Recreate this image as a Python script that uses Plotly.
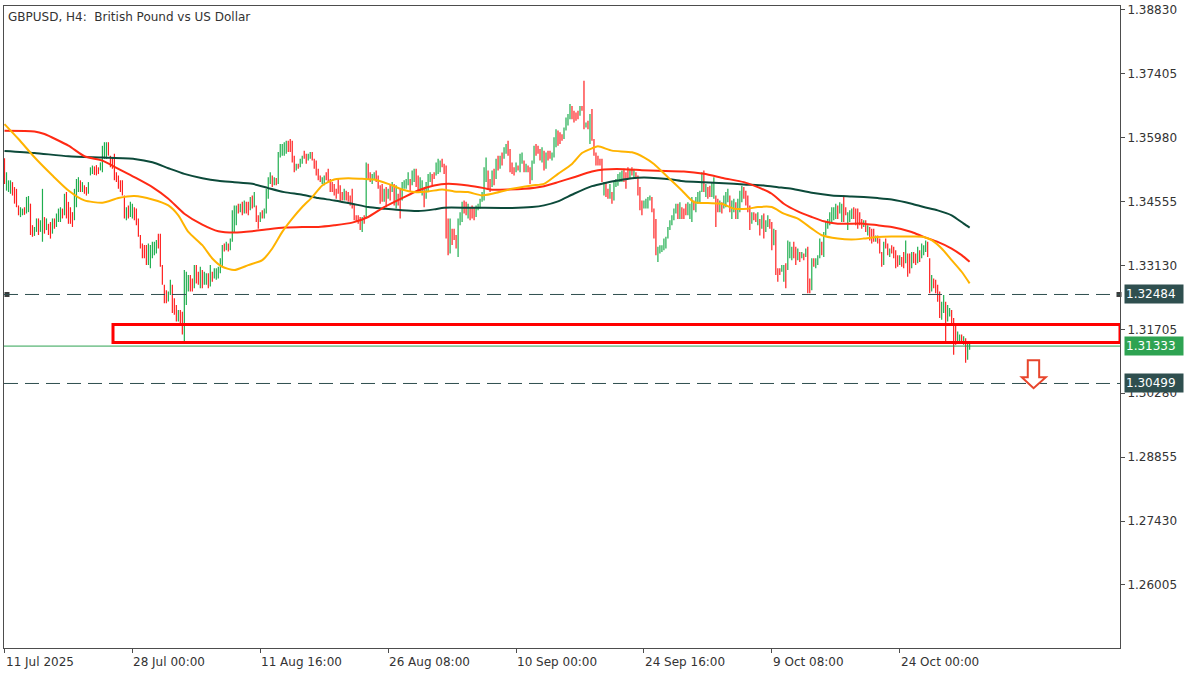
import plotly.graph_objects as go

# ---------------- data ----------------
# GBPUSD H4 bars, bar 0 = 11 Jul 2025 08:00.  u = bullish bar, d = bearish bar
bar_dir = (
    "duuudddduu" "duudduuduu" "dudduduuud" "udddduuudu" "dduuuddduu"
    "uudddddddd" "duduuddddd" "dduuuuuddd" "dduudddudd" "uuudduddud"
    "uududuuuuu" "duduuuudud" "uddududdud" "uuuududuuu" "uudddduduu"
    "dduudddddu" "uddddddddd" "uddddddddu" "dudduudddd" "ududududdu"
    "uuuduudduu" "duuudduuud" "ddduddduuu" "dduddduuuu" "uuddudud"
    "uduuddddud" "uududduudd" "dududduuud" "dduuuudddd" "uddududddd"
    "ddudduduuu" "uudddududd" "dduuuudddu" "uuuuuuuuud" "uddduuuduu"
    "uududduudd" "uduuuduudu" "uudddduddu" "duduuddudd" "duuduuuddu"
    "dududduduu" "uduuuuuuud" "uudduuuddd" "ddududddud" "dduddudddd"
    "uddudduddu" "duuudduddd" "duuduudddu" "ududuu"
)

bar_high = [
    1.3552, 1.3521, 1.3503, 1.3503, 1.3499, 1.3488, 1.3484, 1.3447, 1.3443, 1.3440,
    1.3443, 1.3466, 1.3468, 1.3451, 1.3403, 1.3399, 1.3418, 1.3418, 1.3414, 1.3484,
    1.3421, 1.3418, 1.3406, 1.3410, 1.3418, 1.3418, 1.3429, 1.3440, 1.3443, 1.3440,
    1.3473, 1.3477, 1.3455, 1.3443, 1.3432, 1.3484, 1.3506, 1.3510, 1.3503, 1.3499,
    1.3492, 1.3488, 1.3499, 1.3532, 1.3536, 1.3534, 1.3537, 1.3532, 1.3543, 1.3580,
    1.3588, 1.3588, 1.3588, 1.3558, 1.3554, 1.3562, 1.3521, 1.3514, 1.3503, 1.3503,
    1.3469, 1.3443, 1.3447, 1.3455, 1.3451, 1.3443, 1.3440, 1.3418, 1.3381, 1.3362,
    1.3359, 1.3359, 1.3362, 1.3359, 1.3366, 1.3366, 1.3370, 1.3384, 1.3384, 1.3314,
    1.3270, 1.3258, 1.3255, 1.3281, 1.3270, 1.3240, 1.3225, 1.3214, 1.3214, 1.3210,
    1.3303, 1.3299, 1.3292, 1.3292, 1.3284, 1.3314, 1.3314, 1.3299, 1.3310, 1.3303,
    1.3299, 1.3296, 1.3296, 1.3314, 1.3299, 1.3307, 1.3307, 1.3310, 1.3329, 1.3359,
    1.3362, 1.3366, 1.3362, 1.3373, 1.3436, 1.3447, 1.3447, 1.3451, 1.3451, 1.3455,
    1.3458, 1.3455, 1.3455, 1.3466, 1.3469, 1.3477, 1.3447, 1.3425, 1.3432, 1.3436,
    1.3440, 1.3484, 1.3510, 1.3521, 1.3514, 1.3510, 1.3508, 1.3566, 1.3584, 1.3584,
    1.3588, 1.3591, 1.3591, 1.3595, 1.3591, 1.3558, 1.3540, 1.3540, 1.3551, 1.3558,
    1.3569, 1.3562, 1.3562, 1.3566, 1.3566, 1.3551, 1.3547, 1.3529, 1.3514, 1.3510,
    1.3514, 1.3521, 1.3529, 1.3506, 1.3499, 1.3495, 1.3484, 1.3506, 1.3492, 1.3477,
    1.3484, 1.3480, 1.3477, 1.3469, 1.3484, 1.3451, 1.3425, 1.3425, 1.3421, 1.3421,
    1.3425, 1.3543, 1.3540, 1.3521, 1.3517, 1.3521, 1.3525, 1.3514, 1.3492, 1.3495,
    1.3484, 1.3488, 1.3484, 1.3495, 1.3499, 1.3495, 1.3492, 1.3473, 1.3484, 1.3499,
    1.3503, 1.3506, 1.3521, 1.3506, 1.3525, 1.3529, 1.3529, 1.3514, 1.3510, 1.3503,
    1.3484, 1.3499, 1.3517, 1.3521, 1.3517, 1.3521, 1.3543, 1.3551, 1.3547, 1.3551,
    1.3540, 1.3536, 1.3418, 1.3418, 1.3395, 1.3395, 1.3381, 1.3418, 1.3432, 1.3455,
    1.3458, 1.3455, 1.3451, 1.3443, 1.3447, 1.3443, 1.3447, 1.3451, 1.3462, 1.3477,
    1.3532, 1.3554, 1.3525, 1.3506, 1.3525, 1.3529, 1.3551, 1.3558, 1.3558, 1.3565,
    1.3577, 1.3584, 1.3591, 1.3573, 1.3543, 1.3532, 1.3543, 1.3536, 1.3562, 1.3565,
    1.3547, 1.3540, 1.3536, 1.3532, 1.3547, 1.3580, 1.3584, 1.3580, 1.3573, 1.3577,
    1.3569, 1.3565, 1.3569, 1.3569, 1.3565, 1.3599, 1.3617, 1.3614, 1.3610, 1.3606,
    1.3621, 1.3643, 1.3651, 1.3673, 1.3669, 1.3658, 1.3654, 1.3658, 1.3669, 1.3669,
    1.3725, 1.3632, 1.3636, 1.3651, 1.3662, 1.3595, 1.3565, 1.3558, 1.3551, 1.3551,
    1.3499, 1.3499, 1.3484, 1.3495, 1.3477, 1.3499, 1.3506, 1.3517, 1.3521, 1.3525,
    1.3529, 1.3521, 1.3532, 1.3529, 1.3532, 1.3529, 1.3521, 1.3514, 1.3488, 1.3458,
    1.3458, 1.3462, 1.3466, 1.3469, 1.3466, 1.3440, 1.3417, 1.3355, 1.3358, 1.3358,
    1.3373, 1.3377, 1.3399, 1.3414, 1.3425, 1.3440, 1.3451, 1.3451, 1.3454, 1.3443,
    1.3440, 1.3451, 1.3454, 1.3451, 1.3466, 1.3458, 1.3466, 1.3477, 1.3480, 1.3521,
    1.3525, 1.3495, 1.3488, 1.3491, 1.3499, 1.3510, 1.3469, 1.3462, 1.3458, 1.3454,
    1.3469, 1.3477, 1.3484, 1.3469, 1.3458, 1.3462, 1.3454, 1.3462, 1.3480, 1.3491,
    1.3488, 1.3480, 1.3469, 1.3447, 1.3432, 1.3432, 1.3429, 1.3432, 1.3417, 1.3425,
    1.3429, 1.3414, 1.3425, 1.3417, 1.3410, 1.3395, 1.3392, 1.3307, 1.3307, 1.3314,
    1.3314, 1.3318, 1.3369, 1.3366, 1.3355, 1.3366, 1.3355, 1.3351, 1.3343, 1.3343,
    1.3340, 1.3351, 1.3355, 1.3284, 1.3329, 1.3329, 1.3329, 1.3336, 1.3373, 1.3366,
    1.3388, 1.3410, 1.3417, 1.3432, 1.3443, 1.3443, 1.3451, 1.3447, 1.3454, 1.3451,
    1.3469, 1.3443, 1.3432, 1.3436, 1.3440, 1.3443, 1.3440, 1.3440, 1.3432, 1.3417,
    1.3414, 1.3414, 1.3403, 1.3399, 1.3395, 1.3395, 1.3380, 1.3380, 1.3373, 1.3343,
    1.3366, 1.3373, 1.3362, 1.3351, 1.3358, 1.3355, 1.3347, 1.3336, 1.3336, 1.3332,
    1.3343, 1.3369, 1.3340, 1.3340, 1.3343, 1.3343, 1.3340, 1.3355, 1.3347, 1.3362,
    1.3358, 1.3369, 1.3366, 1.3329, 1.3292, 1.3284, 1.3281, 1.3270, 1.3255, 1.3232,
    1.3247, 1.3232, 1.3225, 1.3218, 1.3214, 1.3196, 1.3181, 1.3166, 1.3159, 1.3159,
    1.3155, 1.3151, 1.3144, 1.3140,
]

bar_low = [
    1.3495, 1.3480, 1.3477, 1.3473, 1.3469, 1.3451, 1.3443, 1.3425, 1.3421, 1.3425,
    1.3426, 1.3429, 1.3432, 1.3381, 1.3377, 1.3379, 1.3388, 1.3381, 1.3388, 1.3366,
    1.3384, 1.3392, 1.3381, 1.3373, 1.3384, 1.3395, 1.3399, 1.3410, 1.3410, 1.3418,
    1.3425, 1.3418, 1.3406, 1.3406, 1.3399, 1.3414, 1.3443, 1.3477, 1.3477, 1.3477,
    1.3473, 1.3469, 1.3473, 1.3514, 1.3517, 1.3515, 1.3514, 1.3517, 1.3525, 1.3521,
    1.3551, 1.3551, 1.3558, 1.3532, 1.3529, 1.3503, 1.3499, 1.3484, 1.3477, 1.3469,
    1.3418, 1.3414, 1.3418, 1.3421, 1.3418, 1.3414, 1.3403, 1.3377, 1.3351, 1.3329,
    1.3329, 1.3314, 1.3314, 1.3307, 1.3329, 1.3336, 1.3340, 1.3351, 1.3310, 1.3270,
    1.3229, 1.3229, 1.3233, 1.3247, 1.3207, 1.3203, 1.3188, 1.3188, 1.3181, 1.3159,
    1.3144, 1.3225, 1.3255, 1.3255, 1.3255, 1.3262, 1.3273, 1.3270, 1.3262, 1.3262,
    1.3270, 1.3270, 1.3262, 1.3266, 1.3277, 1.3284, 1.3281, 1.3284, 1.3296, 1.3310,
    1.3344, 1.3347, 1.3344, 1.3347, 1.3366, 1.3388, 1.3403, 1.3429, 1.3432, 1.3425,
    1.3429, 1.3429, 1.3425, 1.3436, 1.3440, 1.3443, 1.3410, 1.3395, 1.3410, 1.3418,
    1.3418, 1.3429, 1.3462, 1.3495, 1.3488, 1.3492, 1.3492, 1.3495, 1.3554, 1.3558,
    1.3558, 1.3562, 1.3566, 1.3566, 1.3543, 1.3521, 1.3525, 1.3529, 1.3532, 1.3540,
    1.3551, 1.3540, 1.3547, 1.3551, 1.3547, 1.3529, 1.3514, 1.3503, 1.3499, 1.3495,
    1.3492, 1.3503, 1.3499, 1.3477, 1.3477, 1.3469, 1.3462, 1.3473, 1.3455, 1.3458,
    1.3458, 1.3458, 1.3455, 1.3447, 1.3440, 1.3414, 1.3410, 1.3406, 1.3392, 1.3388,
    1.3406, 1.3418, 1.3506, 1.3499, 1.3495, 1.3503, 1.3499, 1.3484, 1.3451, 1.3455,
    1.3455, 1.3443, 1.3462, 1.3458, 1.3477, 1.3447, 1.3440, 1.3447, 1.3418, 1.3458,
    1.3484, 1.3484, 1.3492, 1.3477, 1.3492, 1.3499, 1.3488, 1.3477, 1.3477, 1.3469,
    1.3443, 1.3462, 1.3477, 1.3499, 1.3492, 1.3506, 1.3514, 1.3517, 1.3521, 1.3532,
    1.3517, 1.3373, 1.3336, 1.3340, 1.3359, 1.3370, 1.3351, 1.3332, 1.3403, 1.3410,
    1.3429, 1.3425, 1.3418, 1.3414, 1.3418, 1.3414, 1.3421, 1.3436, 1.3440, 1.3455,
    1.3458, 1.3499, 1.3484, 1.3477, 1.3488, 1.3492, 1.3506, 1.3525, 1.3529, 1.3536,
    1.3551, 1.3562, 1.3558, 1.3521, 1.3517, 1.3514, 1.3521, 1.3525, 1.3521, 1.3540,
    1.3521, 1.3521, 1.3521, 1.3495, 1.3503, 1.3540, 1.3558, 1.3562, 1.3547, 1.3543,
    1.3525, 1.3529, 1.3547, 1.3551, 1.3547, 1.3554, 1.3577, 1.3580, 1.3584, 1.3591,
    1.3595, 1.3614, 1.3625, 1.3639, 1.3639, 1.3632, 1.3636, 1.3639, 1.3647, 1.3658,
    1.3617, 1.3621, 1.3617, 1.3584, 1.3591, 1.3558, 1.3536, 1.3536, 1.3536, 1.3499,
    1.3469, 1.3466, 1.3462, 1.3462, 1.3451, 1.3458, 1.3488, 1.3491, 1.3499, 1.3499,
    1.3499, 1.3484, 1.3506, 1.3506, 1.3514, 1.3506, 1.3506, 1.3469, 1.3436, 1.3425,
    1.3440, 1.3440, 1.3440, 1.3458, 1.3432, 1.3373, 1.3336, 1.3321, 1.3340, 1.3343,
    1.3347, 1.3351, 1.3373, 1.3392, 1.3403, 1.3414, 1.3429, 1.3417, 1.3417, 1.3417,
    1.3417, 1.3425, 1.3425, 1.3417, 1.3410, 1.3436, 1.3432, 1.3451, 1.3454, 1.3477,
    1.3477, 1.3466, 1.3462, 1.3466, 1.3466, 1.3462, 1.3399, 1.3432, 1.3432, 1.3429,
    1.3440, 1.3443, 1.3454, 1.3432, 1.3417, 1.3432, 1.3417, 1.3417, 1.3432, 1.3454,
    1.3462, 1.3447, 1.3432, 1.3392, 1.3406, 1.3414, 1.3410, 1.3403, 1.3380, 1.3395,
    1.3373, 1.3388, 1.3399, 1.3395, 1.3347, 1.3358, 1.3292, 1.3277, 1.3292, 1.3299,
    1.3277, 1.3262, 1.3303, 1.3329, 1.3325, 1.3329, 1.3314, 1.3325, 1.3321, 1.3329,
    1.3325, 1.3332, 1.3251, 1.3251, 1.3258, 1.3310, 1.3307, 1.3314, 1.3329, 1.3336,
    1.3332, 1.3380, 1.3395, 1.3403, 1.3410, 1.3414, 1.3417, 1.3417, 1.3429, 1.3410,
    1.3410, 1.3425, 1.3392, 1.3410, 1.3417, 1.3417, 1.3403, 1.3395, 1.3403, 1.3395,
    1.3399, 1.3388, 1.3380, 1.3369, 1.3362, 1.3366, 1.3366, 1.3362, 1.3340, 1.3310,
    1.3314, 1.3351, 1.3336, 1.3332, 1.3340, 1.3329, 1.3307, 1.3310, 1.3314, 1.3310,
    1.3307, 1.3318, 1.3288, 1.3295, 1.3307, 1.3318, 1.3314, 1.3318, 1.3321, 1.3329,
    1.3336, 1.3343, 1.3332, 1.3251, 1.3255, 1.3262, 1.3251, 1.3232, 1.3196, 1.3192,
    1.3207, 1.3144, 1.3188, 1.3199, 1.3181, 1.3114, 1.3136, 1.3144, 1.3144, 1.3140,
    1.3136, 1.3096, 1.3103, 1.3125,
]

# moving averages (sampled along the lines): bar index and price
fast_ma_bar = [0, 7, 15, 24, 32, 40, 49, 57, 65, 74, 82, 87, 92, 99, 104, 109, 115, 122, 129, 134,
               139, 144, 149, 154, 159, 165, 172, 179, 185, 192, 199, 205, 212, 219, 225, 232, 239,
               244, 254, 264, 270, 277, 284, 289, 294, 297, 304, 314, 320, 325, 332, 339, 345, 352,
               359, 365, 372, 377, 384, 390, 397, 404, 409, 417, 424, 430, 437, 444, 454, 460, 464,
               469, 474, 479, 483]
fast_ma = [1.36284, 1.35951, 1.35544, 1.35137, 1.34804, 1.34582, 1.34530, 1.34634, 1.34678, 1.34604,
           1.34471, 1.34249, 1.33879, 1.33583, 1.33287, 1.33102, 1.33028, 1.33139, 1.33250, 1.33509,
           1.33879, 1.34175, 1.34434, 1.34656, 1.34915, 1.35048, 1.35078, 1.35063, 1.35048, 1.34952,
           1.34826, 1.34767, 1.34782, 1.34826, 1.34782, 1.34767, 1.34693,
           1.34730, 1.34841, 1.34915, 1.34952, 1.35174, 1.35396, 1.35640, 1.35744, 1.35788, 1.35692,
           1.35655, 1.35544, 1.35396, 1.35100, 1.34804, 1.34545, 1.34523, 1.34508, 1.34397, 1.34397,
           1.34434, 1.34434, 1.34286, 1.34175, 1.33953, 1.33805, 1.33731, 1.33709, 1.33731, 1.33768,
           1.33775, 1.33775, 1.33768, 1.33694, 1.33509, 1.33250, 1.32991, 1.32732]

mid_ma_bar = [0, 15, 20, 32, 40, 49, 57, 65, 74, 82, 90, 99, 107, 115, 124, 132, 140, 149, 157, 165,
              174, 182, 190, 199, 207, 215, 222, 232, 240,
              244, 260, 270, 277, 285, 294, 300, 310, 319, 327, 340, 350, 360, 370, 377, 384, 390,
              397, 404, 410, 417, 430, 437, 444, 454, 460, 467, 474, 479, 483]
mid_ma = [1.36136, 1.36121, 1.36062, 1.35803, 1.35566, 1.35470, 1.35285, 1.35100, 1.34878, 1.34619,
          1.34286, 1.34042, 1.33894, 1.33864, 1.33894, 1.33938, 1.33975, 1.33990, 1.33990, 1.34027,
          1.34086, 1.34212, 1.34434, 1.34634, 1.34804, 1.34915, 1.34952, 1.34915, 1.34856,
          1.34819, 1.34841, 1.34900, 1.34989, 1.35100, 1.35226, 1.35270, 1.35278, 1.35255, 1.35241,
          1.35226, 1.35174, 1.35078, 1.34989, 1.34878, 1.34730, 1.34508, 1.34338, 1.34212, 1.34116,
          1.34064, 1.34064, 1.34027, 1.33990, 1.33879, 1.33768, 1.33657, 1.33509, 1.33361, 1.33213]

slow_ma_bar = [0, 15, 32, 49, 65, 74, 82, 90, 99, 107, 115, 124, 132, 140, 149, 157, 165, 174, 182,
               190, 199, 207, 215, 220, 232, 249,
               254, 264, 270, 277, 285, 294, 300, 307, 314, 320, 327, 334, 340, 350, 360, 370, 380,
               387, 394, 404, 414, 424, 430, 437, 444, 454, 460, 467, 474, 480, 483]
slow_ma = [1.35685, 1.35640, 1.35566, 1.35537, 1.35507, 1.35433, 1.35300, 1.35174, 1.35078, 1.35019,
           1.34989, 1.34952, 1.34856, 1.34767, 1.34708, 1.34634, 1.34582, 1.34508, 1.34434, 1.34397,
           1.34360, 1.34345, 1.34382, 1.34419, 1.34419, 1.34412,
           1.34412, 1.34434, 1.34471, 1.34560, 1.34730, 1.34900, 1.34967, 1.35026, 1.35078, 1.35093,
           1.35078, 1.35048, 1.35011, 1.34989, 1.34967, 1.34937, 1.34915, 1.34878, 1.34841, 1.34752,
           1.34693, 1.34671, 1.34656, 1.34634, 1.34604, 1.34508, 1.34434, 1.34360, 1.34249, 1.34064,
           1.33975]

time_tick_bars = [0, 64, 128, 192, 256, 320, 384, 448]
time_tick_text = ["11 Jul 2025", "28 Jul 00:00", "11 Aug 16:00", "26 Aug 08:00",
                  "10 Sep 00:00", "24 Sep 16:00", "9 Oct 08:00", "24 Oct 00:00"]
price_ticks = [1.38830, 1.37405, 1.35980, 1.34555, 1.33130, 1.31705,
               1.30280, 1.28855, 1.27430, 1.26005]

level_upper = 1.32484
level_lower = 1.30499
last_price = 1.31333
zone_top = 1.31814
zone_bottom = 1.31415
zone_start_bar = 54.3

x_range = [-0.25, 558.25]
y_range = [1.24599, 1.38918]

# ---------------- colours / fonts ----------------
UP = "#1fae4f"
DOWN = "#ff2020"
FONT = "DejaVu Sans"
FS = 12
TXT = "#333333"
AXIS = "#4d4d4d"
DARK_BOX = "#2f4f4f"
GREEN_BOX = "#2ea352"

# ---------------- figure ----------------
n = min(len(bar_dir), len(bar_high), len(bar_low))
ux, uy, dx, dy = [], [], [], []
for i in range(n):
    if bar_dir[i] == "u":
        ux += [i, i, None]
        uy += [bar_low[i], bar_high[i], None]
    else:
        dx += [i, i, None]
        dy += [bar_low[i], bar_high[i], None]

fig = go.Figure()
fig.add_trace(go.Scatter(x=ux, y=uy, mode="lines", line=dict(color=UP, width=1.2),
                         hoverinfo="skip"))
fig.add_trace(go.Scatter(x=dx, y=dy, mode="lines", line=dict(color=DOWN, width=1.2),
                         hoverinfo="skip"))

for xs, ys, col in [(slow_ma_bar, slow_ma, "#0c4a3a"),
                    (mid_ma_bar, mid_ma, "#ff2a14"),
                    (fast_ma_bar, fast_ma, "#ffb300")]:
    fig.add_trace(go.Scatter(x=xs, y=ys, mode="lines",
                             line=dict(color=col, width=2, shape="spline", smoothing=0.6),
                             hoverinfo="skip"))

# level square markers at both ends of the upper dashed level
fig.add_trace(go.Scatter(x=[x_range[0] + 1.5, x_range[1] - 0.5], y=[level_upper, level_upper],
                         mode="markers", cliponaxis=False,
                         marker=dict(symbol="square", size=5, color="#3a3a3a"),
                         hoverinfo="skip"))

shapes = []
for lv in (level_upper, level_lower):
    shapes.append(dict(type="line", xref="paper", x0=0, x1=1, yref="y", y0=lv, y1=lv,
                       line=dict(color=DARK_BOX, width=1, dash="14px,7px"), layer="above"))
shapes.append(dict(type="line", xref="paper", x0=0, x1=1, yref="y", y0=last_price, y1=last_price,
                   line=dict(color="#2ea352", width=1), layer="above"))
shapes.append(dict(type="rect", xref="x", x0=zone_start_bar, x1=x_range[1],
                   yref="y", y0=zone_bottom, y1=zone_top,
                   line=dict(color="#ff0000", width=3), fillcolor="rgba(0,0,0,0)", layer="above"))
# hollow down arrow
ax_l, ax_r, sh_l, sh_r, tip = 509.1, 521.1, 512.1, 517.8, 515.0
ay_top, ay_mid, ay_tip = 1.31015, 1.30638, 1.30394
shapes.append(dict(type="path", xref="x", yref="y",
                   path=(f"M {sh_l},{ay_top} L {sh_r},{ay_top} L {sh_r},{ay_mid} L {ax_r},{ay_mid} "
                         f"L {tip},{ay_tip} L {ax_l},{ay_mid} L {sh_l},{ay_mid} Z"),
                   line=dict(color="#e8452c", width=2), fillcolor="white", layer="above"))

annotations = [dict(xref="paper", yref="paper", x=0, y=1, xanchor="left", yanchor="top",
                    xshift=2, yshift=-2, showarrow=False,
                    text="GBPUSD, H4:\u00a0 British Pound vs US Dollar",
                    font=dict(family=FONT, size=FS, color=TXT))]
for b, t in zip(time_tick_bars, time_tick_text):
    annotations.append(dict(xref="x", yref="paper", x=b, y=0, xanchor="left", yanchor="top",
                            xshift=-1, yshift=-5, showarrow=False, text=t,
                            font=dict(family=FONT, size=FS, color=TXT)))
for lv, bg in [(level_upper, DARK_BOX), (last_price, GREEN_BOX), (level_lower, DARK_BOX)]:
    annotations.append(dict(xref="paper", yref="y", x=1, y=lv, xanchor="left", yanchor="middle",
                            xshift=4, showarrow=False, text=f"{lv:.5f}", bgcolor=bg,
                            width=56, height=16, align="left", borderpad=1,
                            font=dict(family=FONT, size=FS, color="white")))

fig.update_layout(
    width=1200, height=675,
    margin=dict(l=3, r=80, t=3, b=27),
    paper_bgcolor="white", plot_bgcolor="white",
    showlegend=False, hovermode=False,
    font=dict(family=FONT, size=FS, color=TXT),
    shapes=shapes, annotations=annotations,
    xaxis=dict(range=x_range, showgrid=False, zeroline=False, showline=True, mirror=True,
               linecolor=AXIS, linewidth=1, ticks="outside", ticklen=4, tickcolor=AXIS,
               tickvals=time_tick_bars, showticklabels=False, fixedrange=True),
    yaxis=dict(range=y_range, side="right", showgrid=False, zeroline=False, showline=True,
               mirror=True, linecolor=AXIS, linewidth=1, ticks="outside", ticklen=4,
               tickcolor=AXIS, tickvals=price_ticks, tickformat=".5f",
               tickfont=dict(family=FONT, size=FS, color=TXT), fixedrange=True),
)

fig.write_html("out.html", config={"displayModeBar": False, "staticPlot": True},
               post_script="document.body.style.margin='0px';")
